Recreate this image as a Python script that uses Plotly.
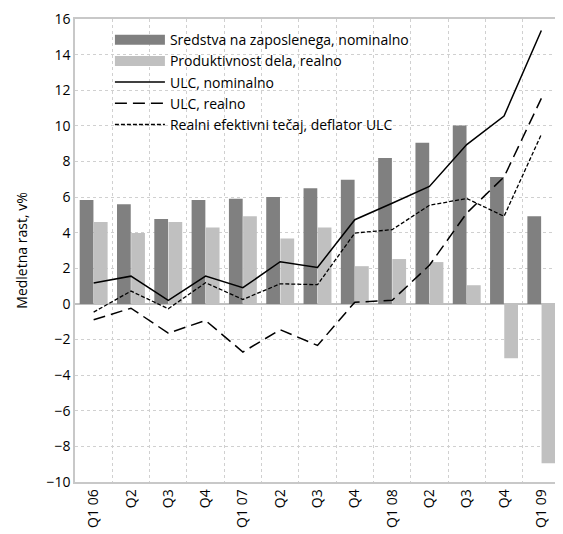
import plotly.graph_objects as go

quarters = ["Q1 06", "Q2", "Q3", "Q4", "Q1 07", "Q2", "Q3", "Q4",
            "Q1 08", "Q2", "Q3", "Q4", "Q1 09"]
sredstva = [5.84, 5.6, 4.77, 5.84, 5.9, 6.0, 6.5, 6.97, 8.2, 9.05, 10.02, 7.13, 4.93]
produktivnost = [4.6, 3.98, 4.6, 4.29, 4.93, 3.68, 4.29, 2.12, 2.52, 2.35, 1.05, -3.05, -8.95]
ulc_nom = [1.17, 1.56, 0.2, 1.56, 0.91, 2.37, 2.05, 4.73, 5.65, 6.6, 8.95, 10.55, 15.35]
ulc_real = [-0.89, -0.24, -1.64, -0.93, -2.7, -1.45, -2.33, 0.1, 0.2, 2.17, 5.1, 7.13, 11.54]
reer = [-0.46, 0.72, -0.27, 1.19, 0.25, 1.13, 1.08, 3.98, 4.17, 5.54, 5.92, 4.92, 9.52]

x = list(range(len(quarters)))
FONT = "Open Sans"
DARK = "#808080"
LIGHT = "#c0c0c0"

fig = go.Figure()
fig.add_bar(x=x, y=sredstva, name="Sredstva na zaposlenega, nominalno",
            marker=dict(color=DARK, line=dict(width=0)), showlegend=False)
fig.add_bar(x=x, y=produktivnost, name="Produktivnost dela, realno",
            marker=dict(color=LIGHT, line=dict(width=0)), showlegend=False)
# legend entries for the bars drawn as wide swatches
fig.add_scatter(x=[None], y=[None], mode="lines", name="Sredstva na zaposlenega, nominalno",
                line=dict(color=DARK, width=10))
fig.add_scatter(x=[None], y=[None], mode="lines", name="Produktivnost dela, realno",
                line=dict(color=LIGHT, width=10))
fig.add_scatter(x=x, y=ulc_nom, mode="lines", name="ULC, nominalno",
                line=dict(color="black", width=1.5))
fig.add_scatter(x=x, y=ulc_real, mode="lines", name="ULC, realno",
                line=dict(color="black", width=1.5, dash="12px,6px"))
fig.add_scatter(x=x, y=reer, mode="lines", name="Realni efektivni tečaj, deflator ULC",
                line=dict(color="black", width=1.3, dash="4px,2px"))

# page body has an 8px default margin, so the figure is 8px smaller
fig.update_layout(
    width=555, height=526,
    margin=dict(l=67, r=3, t=11, b=52, autoexpand=False),
    paper_bgcolor="white", plot_bgcolor="white",
    barmode="group", bargap=0.24, bargroupgap=0.03,
    font=dict(family=FONT, size=14, color="black"),
    showlegend=True,
    legend=dict(x=0.072, y=0.989, xanchor="left", yanchor="top",
                bgcolor="rgba(0,0,0,0)", itemwidth=50, tracegroupgap=0,
                font=dict(family=FONT, size=14), traceorder="normal"),
)
fig.update_xaxes(
    automargin=False,
    range=[-0.5, len(quarters) - 0.5],
    tickmode="array", tickvals=x, ticktext=quarters, tickangle=-90,
    showgrid=False, ticks="", tickfont=dict(family=FONT, size=14),
    showline=True, mirror=True, linecolor="#c8c8c8", linewidth=1.5,
    zeroline=False,
    minor=dict(tickvals=[i - 0.5 for i in range(len(quarters) + 1)],
               showgrid=True, gridcolor="#d0d0d0", griddash="dot", gridwidth=1, ticks=""),
)
fig.update_yaxes(
    automargin=False,
    range=[-10, 16], tickvals=list(range(-10, 17, 2)), ticks="",
    showgrid=True, gridcolor="#d0d0d0", griddash="dot", gridwidth=1,
    zeroline=True, zerolinecolor="#c0c0c0", zerolinewidth=2,
    showline=True, mirror=True, linecolor="#c8c8c8", linewidth=1.5,
    tickfont=dict(family=FONT, size=14),
    title=dict(text="Medletna rast, v%", font=dict(family=FONT, size=14), standoff=16),
)

fig.write_html("out.html")
